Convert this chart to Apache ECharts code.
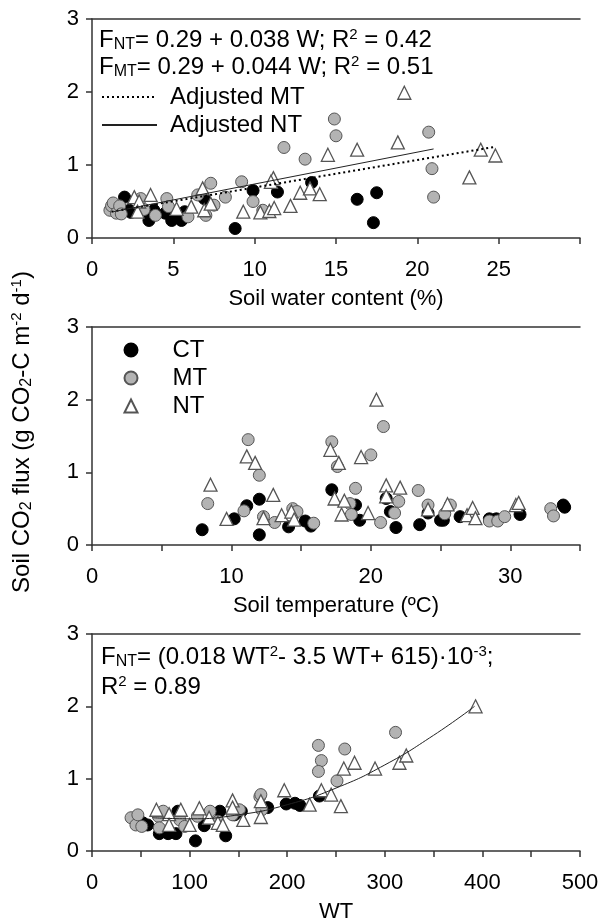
<!DOCTYPE html>
<html><head><meta charset="utf-8">
<script src="https://cdn.jsdelivr.net/npm/echarts@6.0.0/dist/echarts.min.js"></script>
<style>html,body{margin:0;padding:0;background:#fff}#c{width:602px;height:924px}</style>
</head><body><div id="c"></div>
<script>
// ---------- data ----------
// Panel 1: soil water content (%) vs flux
const swcCT = [[2.0,0.56],[2.3,0.38],[2.4,0.35],[3.5,0.24],[3.6,0.30],[3.8,0.38],[4.5,0.34],[4.9,0.24],[5.1,0.31],[5.5,0.24],[5.7,0.36],[6.9,0.54],[8.8,0.13],[9.9,0.65],[11.4,0.63],[13.5,0.76],[16.3,0.53],[17.3,0.21],[17.5,0.62]];
const swcMT = [[1.1,0.38],[1.2,0.44],[1.3,0.48],[1.5,0.34],[1.7,0.44],[1.8,0.33],[3.0,0.54],[3.2,0.39],[3.9,0.31],[4.6,0.54],[4.7,0.43],[5.9,0.29],[6.5,0.59],[7.0,0.31],[7.3,0.75],[7.5,0.45],[8.2,0.56],[9.2,0.77],[9.9,0.50],[10.5,0.38],[11.8,1.24],[13.1,1.08],[14.9,1.63],[15.0,1.40],[20.7,1.45],[20.9,0.95],[21.0,0.56]];
const swcNT = [[2.6,0.56],[2.9,0.50],[2.8,0.36],[3.6,0.59],[5.2,0.40],[6.1,0.43],[6.8,0.68],[6.9,0.38],[7.3,0.47],[9.3,0.36],[10.35,0.35],[10.9,0.37],[11.2,0.41],[11.15,0.82],[11.0,0.77],[12.2,0.44],[12.8,0.62],[13.4,0.68],[14.0,0.60],[14.5,1.14],[16.3,1.21],[18.8,1.31],[19.2,1.99],[23.2,0.83],[23.9,1.21],[24.8,1.13]];
const fitMT = [[1.2,0.36],[24.8,1.25]];
const fitNT = [[1.3,0.36],[21.0,1.22]];
// Panel 2: soil temperature (ºC) vs flux
const tempCT = [[7.9,0.21],[10.2,0.36],[11.1,0.54],[12.0,0.63],[12.0,0.14],[14.1,0.25],[15.3,0.33],[15.7,0.26],[17.2,0.76],[18.9,0.55],[19.2,0.34],[21.1,0.64],[21.4,0.46],[21.8,0.24],[23.5,0.28],[24.1,0.44],[25.0,0.34],[25.2,0.34],[26.4,0.39],[28.5,0.36],[29.0,0.36],[30.7,0.42],[33.8,0.55],[33.9,0.52]];
const tempMT = [[8.3,0.57],[10.9,0.47],[11.2,1.45],[12.0,0.96],[12.3,0.39],[13.1,0.31],[14.4,0.50],[14.7,0.46],[15.9,0.30],[17.2,1.42],[17.6,1.08],[18.5,0.57],[18.6,0.42],[18.9,0.78],[20.0,1.24],[20.9,1.63],[20.7,0.31],[21.7,0.44],[22.0,0.60],[23.4,0.75],[24.1,0.55],[25.3,0.43],[25.7,0.55],[28.5,0.33],[29.1,0.33],[29.6,0.39],[32.9,0.50],[33.1,0.40]];
const tempNT = [[8.5,0.83],[9.65,0.36],[11.1,1.22],[11.7,1.13],[12.3,0.37],[13.0,0.69],[13.6,0.41],[14.3,0.46],[14.5,0.35],[17.1,1.31],[17.7,1.13],[17.4,0.64],[17.9,0.42],[18.1,0.61],[19.3,1.21],[19.8,0.44],[20.4,2.00],[21.1,0.82],[21.1,0.67],[22.1,0.79],[24.1,0.49],[25.5,0.56],[26.9,0.41],[27.3,0.51],[27.5,0.37],[30.4,0.55],[30.6,0.58]];
// Panel 3: WT vs flux
const wtCT = [[52,0.39],[57,0.36],[69,0.24],[78,0.24],[86,0.24],[88,0.55],[106,0.14],[115,0.35],[131,0.55],[137,0.21],[146,0.50],[153,0.55],[180,0.60],[199,0.65],[208,0.66],[213,0.63],[233,0.76]];
const wtMT = [[40,0.46],[45,0.36],[47,0.50],[51,0.34],[68,0.48],[69,0.32],[73,0.55],[90,0.43],[95,0.34],[108,0.48],[121,0.55],[129,0.41],[144,0.50],[151,0.57],[172,0.75],[173,0.78],[174,0.57],[232,1.46],[235,1.25],[232,1.10],[251,0.97],[259,1.41],[311,1.64]];
const wtNT = [[66,0.57],[79,0.51],[79,0.36],[91,0.57],[100,0.36],[110,0.59],[120,0.46],[129,0.39],[134,0.36],[144,0.70],[144,0.60],[155,0.43],[173,0.69],[173,0.47],[197,0.84],[223,0.64],[235,0.84],[245,0.78],[255,0.62],[258,1.14],[269,1.22],[290,1.14],[315,1.22],[322,1.32],[393,2.0]];
const wtFit = [[62,0.46],[100,0.445],[150,0.50],[200,0.64],[250,0.87],[300,1.19],[350,1.60],[392,2.0]];
// axis settings
const yTicks = [0, 1, 2, 3];
const xNames = ['Soil water content (%)', 'Soil temperature (ºC)', 'WT'];
const xRanges = [[0, 30, 5, 5], [0, 35, 5, 10], [0, 500, 50, 100]]; // min,max,tick step,label step

// ---------- chart ----------
const FONT = 'Arial, "Liberation Sans", sans-serif';
const AX = '#333';
const grids = [
  {left: 92, top: 19, width: 488, height: 219},
  {left: 92, top: 327, width: 488, height: 218},
  {left: 92, top: 634, width: 488, height: 219}
];
const xAxis = [];
xRanges.forEach((r, i) => {
  xAxis.push({
    type: 'value', gridIndex: i, min: r[0], max: r[1], interval: r[2],
    name: xNames[i], nameLocation: 'middle', nameGap: 50,
    nameTextStyle: {fontSize: 22, color: '#000', fontFamily: FONT},
    axisLine: {lineStyle: {color: AX, width: 1.5}},
    axisTick: {length: 6, lineStyle: {color: AX, width: 1.5}},
    splitLine: {show: false},
    axisLabel: {fontSize: 22, color: '#000', fontFamily: FONT, margin: 21,
      formatter: v => (v % r[3] === 0 && (i !== 0 || v !== 30)) ? String(v) : ''}
  });
});
xRanges.forEach((r, i) => {
  xAxis.push({
    type: 'value', gridIndex: i, position: 'top', min: r[0], max: r[1],
    axisLine: {lineStyle: {color: AX, width: 1.5}},
    axisTick: {show: false}, axisLabel: {show: false}, splitLine: {show: false}
  });
});
const yAxis = [0, 1, 2].map(i => ({
  type: 'value', gridIndex: i, min: yTicks[0], max: yTicks[yTicks.length - 1], interval: 1,
  axisLine: {show: true, lineStyle: {color: AX, width: 1.5}},
  axisTick: {show: true, length: 6, lineStyle: {color: AX, width: 1.5}},
  splitLine: {show: false},
  axisLabel: {fontSize: 22, color: '#000', fontFamily: FONT, margin: 13}
}));

const styles = {
  CT: {symbol: 'circle', symbolSize: 12, itemStyle: {color: '#000', borderColor: '#000', borderWidth: 1, opacity: 1}},
  MT: {symbol: 'circle', symbolSize: 12, itemStyle: {color: '#b3b3b3', borderColor: '#555', borderWidth: 1, opacity: 1}},
  NT: {symbol: 'triangle', symbolSize: 13, itemStyle: {color: '#fff', borderColor: '#555', borderWidth: 1.3, opacity: 1}}
};
function sc(name, data, idx) {
  return Object.assign({type: 'scatter', name, data, xAxisIndex: idx, yAxisIndex: idx, z: 3}, styles[name]);
}
const series = [
  sc('CT', swcCT, 0), sc('MT', swcMT, 0), sc('NT', swcNT, 0),
  sc('CT', tempCT, 1), sc('MT', tempMT, 1), sc('NT', tempNT, 1),
  sc('CT', wtCT, 2), sc('MT', wtMT, 2), sc('NT', wtNT, 2),
  {type: 'line', name: 'Adjusted MT', data: fitMT, xAxisIndex: 0, yAxisIndex: 0, symbol: 'none', z: 4,
    itemStyle: {color: '#000'}, lineStyle: {color: '#000', width: 2, type: [2, 3]}},
  {type: 'line', name: 'Adjusted NT', data: fitNT, xAxisIndex: 0, yAxisIndex: 0, symbol: 'none', z: 4,
    itemStyle: {color: '#222'}, lineStyle: {color: '#222', width: 1}},
  {type: 'line', name: 'Fit WT', data: wtFit, xAxisIndex: 2, yAxisIndex: 2, symbol: 'none', smooth: true, z: 4,
    itemStyle: {color: '#222'}, lineStyle: {color: '#222', width: 1}}
];

const rich = {
  n: {fontSize: 24, fontFamily: FONT, color: '#000'},
  s: {fontSize: 16, fontFamily: FONT, color: '#000', padding: [10, 0, 0, 0]},
  p: {fontSize: 15, fontFamily: FONT, color: '#000', padding: [0, 0, 11, 0]}
};
function txt(x, y, text, rot) {
  return {type: 'text', x, y, rotation: rot || 0, z: 10,
    style: {text, rich, align: rot ? 'center' : 'left', verticalAlign: 'middle'}};
}

const option = {
  animation: false,
  backgroundColor: '#fff',
  textStyle: {fontFamily: FONT},
  grid: grids,
  xAxis, yAxis, series,
  legend: [
    {data: ['Adjusted MT', 'Adjusted NT'], orient: 'vertical', left: 101, top: 85, padding: 0,
      itemWidth: 55, itemHeight: 14, itemGap: 4,
      itemStyle: {opacity: 0},
      textStyle: {fontSize: 24, color: '#000', fontFamily: FONT, lineHeight: 24, padding: [0, 0, 0, 8]}},
    {data: ['CT', 'MT', 'NT'], orient: 'vertical', left: 123.5, top: 338, padding: 0,
      itemWidth: 13, itemHeight: 13, itemGap: 4,
      textStyle: {fontSize: 24, color: '#000', fontFamily: FONT, lineHeight: 24, padding: [0, 0, 0, 30]}}
  ],
  graphic: [
    txt(99, 40, '{n|F}{s|NT}{n|= 0.29 + 0.038 W; R}{p|2}{n| = 0.42}'),
    txt(99, 67, '{n|F}{s|MT}{n|= 0.29 + 0.044 W; R}{p|2}{n| = 0.51}'),
    txt(101, 657, '{n|F}{s|NT}{n|= (0.018 WT}{p|2}{n|- 3.5 WT+ 615)·10}{p|-3}{n|;}'),
    txt(101, 687, '{n|R}{p|2}{n| = 0.89}'),
    txt(22, 432, '{n|Soil CO}{s|2}{n| flux (g CO}{s|2}{n|-C m}{p|-2}{n| d}{p|-1}{n|)}', Math.PI / 2)
  ]
};
const chart = echarts.init(document.getElementById('c'), null, {renderer: 'canvas'});
chart.setOption(option);
</script></body></html>
